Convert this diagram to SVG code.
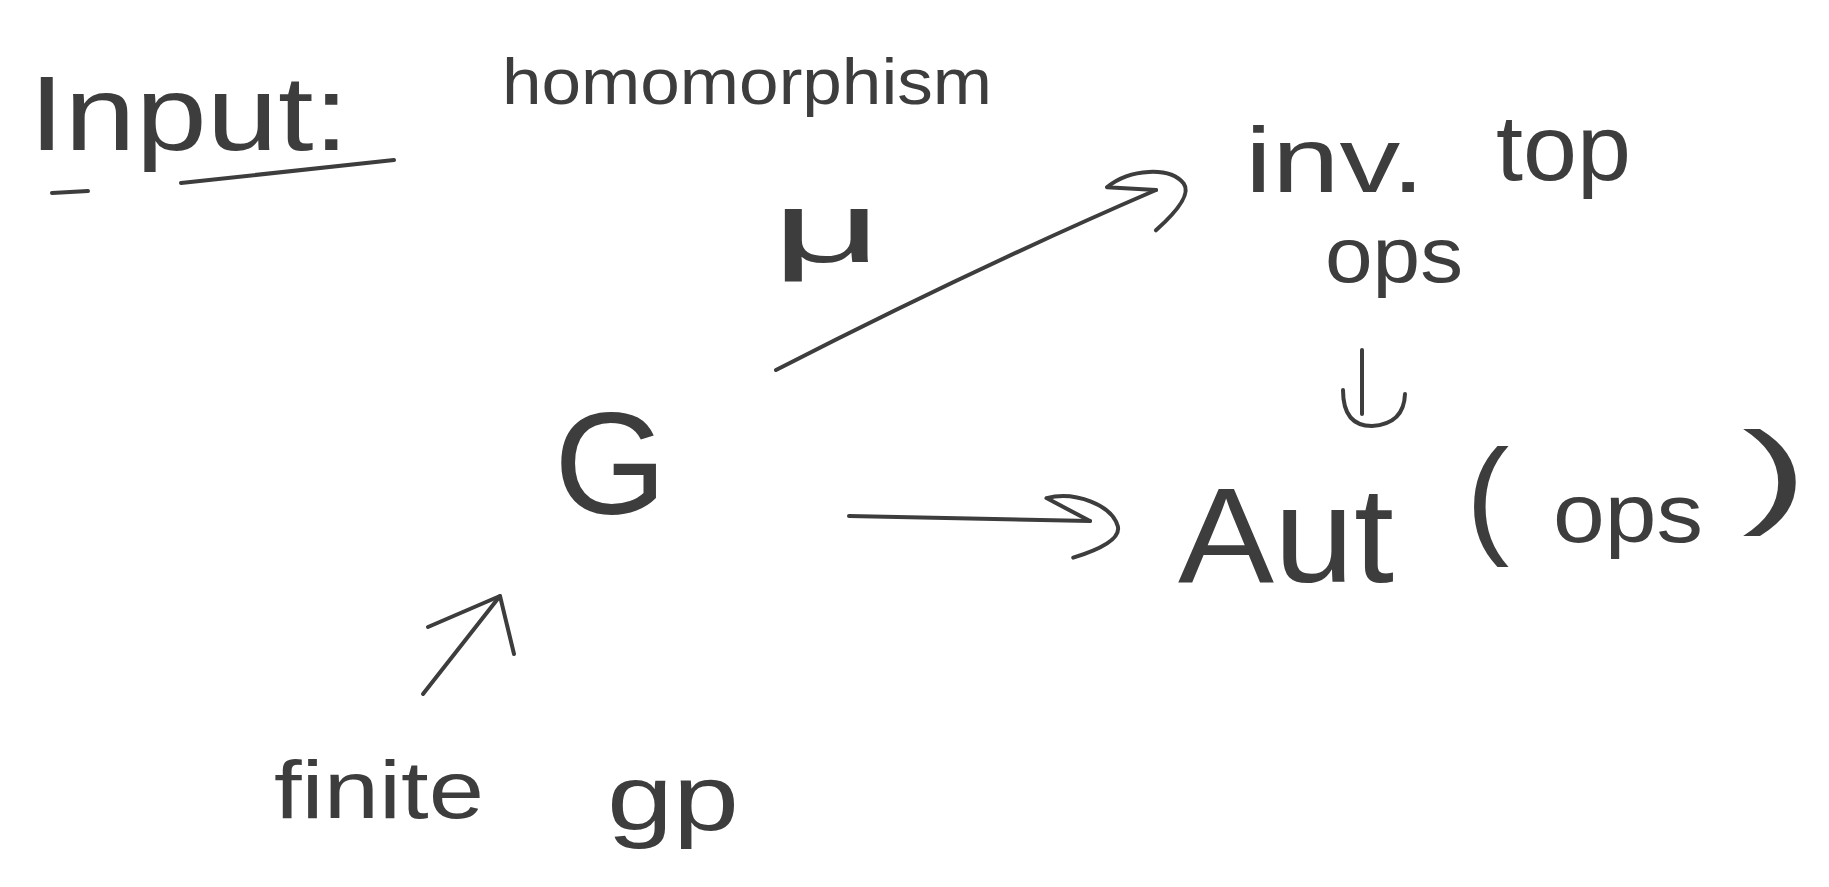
<svg xmlns="http://www.w3.org/2000/svg" width="1829" height="887" viewBox="0 0 1829 887">
<style>
  .t { font-family: "Liberation Sans", "DejaVu Sans", sans-serif; fill: #3d3d3d; }
  .s { fill: none; stroke: #3d3d3d; stroke-width: 4; stroke-linecap: round; stroke-linejoin: round; }
</style>
<defs>
  <marker id="hand" markerUnits="userSpaceOnUse" markerWidth="90" markerHeight="90" refX="0" refY="0" viewBox="-45 -45 90 90" orient="auto" overflow="visible">
    <path d="M0,0 L-44,-22 C-15,-30 22,-16 28,5 C31,18 8,29 -16,37" fill="none" stroke="#3d3d3d" stroke-width="4" stroke-linecap="round" stroke-linejoin="round"/>
  </marker>
</defs>
<rect width="1829" height="887" fill="#ffffff"/>

<g id="label-input">
  <text class="t" x="29" y="150" font-size="105" textLength="320" lengthAdjust="spacingAndGlyphs">Input:</text>
  <path class="s" d="M181,183 L394,160"/>
  <path class="s" d="M52,193 L88,191" stroke-width="6"/>
</g>

<g id="label-homomorphism">
  <text class="t" x="502" y="104" font-size="64" textLength="490" lengthAdjust="spacingAndGlyphs">homomorphism</text>
</g>

<g id="node-invtop">
  <text class="t" x="1245" y="192" font-size="92" textLength="180" lengthAdjust="spacingAndGlyphs">inv.</text>
  <text class="t" x="1496" y="180" font-size="92" textLength="135" lengthAdjust="spacingAndGlyphs">top</text>
  <text class="t" x="1325" y="282" font-size="78" textLength="138" lengthAdjust="spacingAndGlyphs">ops</text>
</g>

<g id="node-aut">
  <text class="t" x="1178" y="582" font-size="135" textLength="216" lengthAdjust="spacingAndGlyphs">Aut</text>
  <text class="t" x="1466" y="540" font-size="130">(</text>
  <text class="t" x="1553" y="542" font-size="84" textLength="150" lengthAdjust="spacingAndGlyphs">ops</text>
  <text class="t" x="1742" y="512" font-size="115" textLength="66" lengthAdjust="spacingAndGlyphs">)</text>
</g>

<g id="node-G">
  <text class="t" x="554" y="514" font-size="145">G</text>
</g>

<g id="label-mu">
  <text class="t" x="772" y="262" font-size="100" textLength="110" lengthAdjust="spacingAndGlyphs">μ</text>
</g>

<g id="node-finitegp">
  <text class="t" x="274" y="818" font-size="82" textLength="210" lengthAdjust="spacingAndGlyphs">finite</text>
  <text class="t" x="607" y="830" font-size="92" textLength="132" lengthAdjust="spacingAndGlyphs">gp</text>
</g>

<g id="connectors">
  <path class="s" d="M776,370 Q975,268 1156,190" marker-end="url(#hand)"/>
  <path class="s" d="M849,516 L1090,521" marker-end="url(#hand)"/>
  <path class="s" d="M1362,350 L1362,414"/>
  <path class="s" d="M1343,390 Q1343,426 1372,426 Q1404,424 1405,394"/>
  <path class="s" d="M423,694 L500,596"/>
  <path class="s" d="M428,627 L500,596 L514,654"/>
</g>
</svg>
